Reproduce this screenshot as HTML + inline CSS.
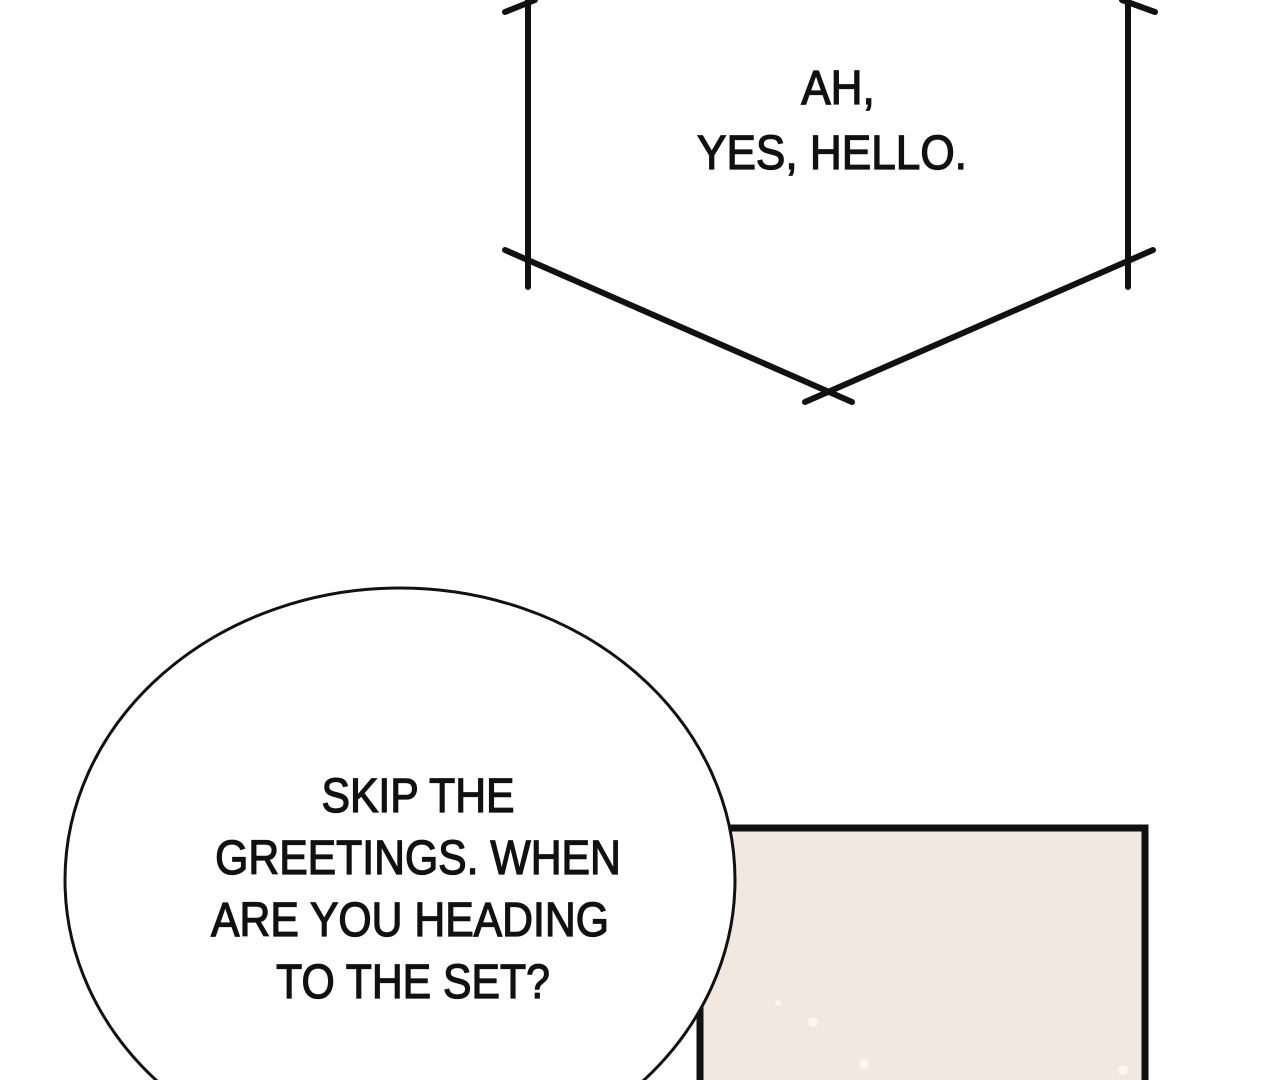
<!DOCTYPE html>
<html><head><meta charset="utf-8"><style>
html,body{margin:0;padding:0;background:#fff;width:1284px;height:1080px;overflow:hidden;}
svg{display:block;}
text{font-family:"Liberation Sans",sans-serif;fill:#111;stroke:#111;stroke-width:1.3;}
</style></head><body>
<svg width="1284" height="1080" viewBox="0 0 1284 1080" xmlns="http://www.w3.org/2000/svg">
<rect width="1284" height="1080" fill="#fff"/>
<rect x="700" y="828" width="445" height="270" fill="#f2e8df" stroke="#111" stroke-width="7"/>
<circle cx="813" cy="1022" r="5" fill="#fbf6ef"/>
<circle cx="864" cy="1064" r="5" fill="#fbf6ef"/>
<circle cx="778" cy="1003" r="3" fill="#fbf6ef"/>
<circle cx="1123" cy="1070" r="5" fill="#fbf6ef"/>
<g stroke="#111" stroke-width="6" stroke-linecap="round" fill="none">
<line x1="528" y1="0" x2="528" y2="287"/>
<line x1="1128" y1="0" x2="1128" y2="287"/>
<line x1="505" y1="12" x2="535" y2="0"/>
<line x1="1122" y1="0" x2="1155" y2="12"/>
<line x1="505" y1="250" x2="852" y2="402"/>
<line x1="1153" y1="250" x2="805" y2="402"/>
</g>
<g text-anchor="middle" font-size="48">
<text x="838" y="104" transform="translate(838 0) scale(0.92 1) translate(-838 0)">AH,</text>
<text x="832" y="169" transform="translate(832 0) scale(0.92 1) translate(-832 0)">YES, HELLO.</text>
</g>
<ellipse cx="400" cy="880" rx="335" ry="292" fill="#fff" stroke="#111" stroke-width="3"/>
<g text-anchor="middle" font-size="48">
<text x="418" y="812" transform="translate(418 0) scale(0.89 1) translate(-418 0)">SKIP THE</text>
<text x="418" y="874" transform="translate(418 0) scale(0.89 1) translate(-418 0)">GREETINGS. WHEN</text>
<text x="410" y="936" transform="translate(410 0) scale(0.89 1) translate(-410 0)">ARE YOU HEADING</text>
<text x="413" y="998" transform="translate(413 0) scale(0.89 1) translate(-413 0)">TO THE SET?</text>
</g>
</svg>
</body></html>
